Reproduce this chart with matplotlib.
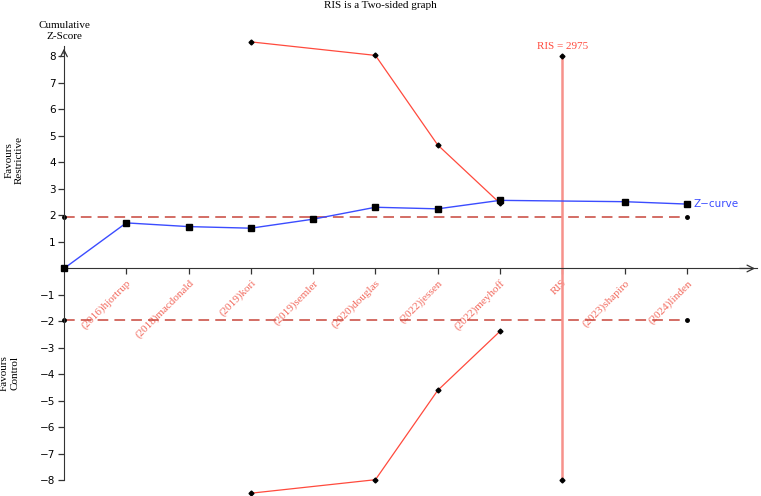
import matplotlib
matplotlib.use('Agg')
import matplotlib.pyplot as plt
import numpy as np

# study labels along the x axis (RIS sits between meyhoff and shapiro)
labels = ["(2016)hjortrup", "(2018)macdonald", "(2019)kori", "(2019)semler",
          "(2020)douglas", "(2022)jessen", "(2022)meyhoff", "RIS",
          "(2023)shapiro", "(2024)linden"]

# cumulative z-curve
z_x = [0, 1, 2, 3, 4, 5, 6, 7, 9, 10]
z_vals = [0.0, 1.72, 1.58, 1.52, 1.86, 2.31, 2.25, 2.57, 2.52, 2.43]

# monitoring boundaries
bound_x = [3, 5, 6, 7]
upper_bound = [8.55, 8.04, 4.66, 2.46]
lower_bound = [-8.48, -7.97, -4.60, -2.37]

ris_x = 8
ris_value = 2975
ris_top, ris_bottom = 8, -8
conv_z = 1.96
conv_x = [0, 10]

red = '#ff4a3d'
ris_red = '#f7918b'
dash_red = '#c8453a'
blue = '#3b4cff'
label_red = '#f26a5e'
serif = 'Liberation Serif'

fig = plt.figure(figsize=(7.61, 4.96), dpi=100)
ax = fig.add_axes([0, 0, 1, 1])
ax.set_xlim(-1.027, 11.19)
ax.set_ylim(-8.585, 10.13)

# axes lines through zero
for s in ['top', 'right']:
    ax.spines[s].set_visible(False)
ax.spines['left'].set_position(('data', 0))
ax.spines['bottom'].set_position(('data', 0))
ax.spines['left'].set_bounds(-8, 8.38)
ax.spines['bottom'].set_bounds(0, 11.13)
ax.spines['left'].set_color('#333333')
ax.spines['bottom'].set_color('#333333')
ax.annotate('', xy=(0, 8.4), xytext=(0, 8.0),
            arrowprops=dict(arrowstyle='->', color='#333333', lw=0.9, mutation_scale=12))
ax.annotate('', xy=(11.14, 0), xytext=(10.8, 0),
            arrowprops=dict(arrowstyle='->', color='#333333', lw=0.9, mutation_scale=12))

yt = [v for v in range(-8, 9) if v != 0]
ax.set_yticks(yt)
ax.set_yticklabels(['\u2212%d' % -v if v < 0 else str(v) for v in yt], fontsize=7.5)
xt = np.arange(1, len(labels) + 1)
ax.set_xticks(xt)
ax.set_xticklabels(labels, rotation=45, ha='right', va='top', rotation_mode='anchor',
                   fontsize=8, family=serif, color=label_red)
ax.tick_params(axis='both', direction='out', length=4, width=0.9, color='#333333', pad=2)
ax.tick_params(axis='x', pad=3)

# conventional boundaries
for sgn in [1, -1]:
    ax.plot(conv_x, [sgn * conv_z] * 2, color=dash_red, lw=1.1, dashes=(7, 4),
            marker='o', markersize=2.5, markerfacecolor='black', markeredgecolor='black')

# RIS line
ax.plot([ris_x, ris_x], [ris_bottom, ris_top], color=ris_red, lw=1.8,
        marker='D', markersize=2.5, markerfacecolor='black', markeredgecolor='black')
ax.text(ris_x, ris_top + 0.2, 'RIS = %d' % ris_value, color=red, fontsize=8,
        family=serif, ha='center', va='bottom')

# monitoring boundaries
ax.plot(bound_x, upper_bound, color=red, lw=0.9, marker='D', markersize=2.5,
        markerfacecolor='black', markeredgecolor='black')
ax.plot(bound_x, lower_bound, color=red, lw=0.9, marker='D', markersize=2.5,
        markerfacecolor='black', markeredgecolor='black')

# z-curve
ax.plot(z_x, z_vals, color=blue, lw=1.0, marker='s', markersize=4,
        markerfacecolor='black', markeredgecolor='black', zorder=5)
ax.text(z_x[-1] + 0.1, z_vals[-1], 'Z\u2212curve', color=blue, fontsize=7.5,
        ha='left', va='center')

# texts
fig.text(0.5, 0.997, 'RIS is a Two-sided graph', fontsize=8, family=serif,
         ha='center', va='top')
ax.text(0.0, 8.96, 'Cumulative\nZ-Score', fontsize=8, family=serif,
        ha='center', va='center', linespacing=1.2)
ax.text(-0.8, 4.1, 'Favours\nRestrictive', fontsize=8, family=serif,
        rotation=90, ha='center', va='center', linespacing=1.2)
ax.text(-0.87, -3.94, 'Favours\nControl', fontsize=8, family=serif,
        rotation=90, ha='center', va='center', linespacing=1.2)

fig.savefig('out.png', dpi=100)
